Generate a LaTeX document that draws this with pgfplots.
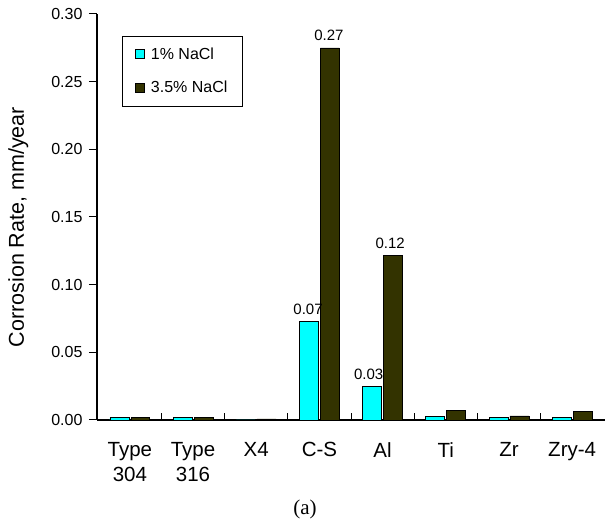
\documentclass[border=0pt]{standalone}
\usepackage{fontspec}
\setmainfont{Liberation Sans}
\newfontfamily\seriffont{Liberation Serif}
\usepackage{pgfplots}
\pgfplotsset{compat=1.18}
\definecolor{cyanbar}{RGB}{0,255,255}
\definecolor{darkbar}{RGB}{51,51,0}
\begin{document}
\begin{tikzpicture}[x=1pt,y=1pt]
\useasboundingbox (0,0) rectangle (608,525);
\begin{axis}[
  at={(97pt,105pt)}, anchor=south west,
  scale only axis, width=508pt, height=406pt,
  xmin=-0.52, xmax=7.52, ymin=0, ymax=0.30,
  axis x line=bottom, axis y line=left,
  axis line style={-, line width=2.5pt},
  ybar, bar width=0.30,
  xtick={0,...,7},
  xticklabels={{Type\\304},{Type\\316},X4,C-S,Al,Ti,Zr,Zry-4},
  xticklabel style={align=center, font=\fontsize{20.5}{25}\selectfont, yshift=-11pt},
  major x tick style={draw=none},
  minor xtick={0.5,1.5,...,6.5},
  minor x tick style={draw=black, line width=1pt, yshift=7pt},
  minor tick length=7pt,
  ytick={0,0.05,...,0.30},
  yticklabels={0.00,0.05,0.10,0.15,0.20,0.25,0.30},
  yticklabel style={font=\fontsize{16}{18}\selectfont, xshift=-3pt},
  major y tick style={draw=black, line width=1pt},
  major tick length=8pt,
  tick align=outside,
  /pgf/number format/assume math mode=true,
  ylabel={Corrosion Rate, mm/year},
  ylabel style={font=\fontsize{21.5}{24}\selectfont, at={(axis description cs:-0.155,0.475)}, anchor=center, rotate=0},
  legend style={at={(0.049,0.946)}, anchor=north west, draw=black, line width=0.7pt,
    font=\fontsize{16}{18}\selectfont, row sep=16pt, inner xsep=13pt, inner ysep=10pt,
    legend cell align=left, /tikz/every odd column/.style={column sep=4pt}},
  legend image code/.code={\draw[#1, draw=black, line width=0.7pt] (0pt,-4pt) rectangle (9pt,5pt);},
]
\addplot[fill=cyanbar, draw=black, line width=0.7pt] coordinates {
  (0,0.0017) (1,0.0017) (2,0) (3,0.0727) (4,0.0250) (5,0.0025) (6,0.0017) (7,0.0017)};
\addlegendentry{1\% NaCl}
\addplot[fill=darkbar, draw=black, line width=0.7pt] coordinates {
  (0,0.0017) (1,0.0017) (2,0.0008) (3,0.2749) (4,0.1215) (5,0.0072) (6,0.0030) (7,0.0062)};
\addlegendentry{3.5\% NaCl}
\node[anchor=south, font=\fontsize{15}{17}\selectfont] at (axis cs:2.82,0.0755) {0.07};
\node[anchor=south, font=\fontsize{15}{17}\selectfont] at (axis cs:3.15,0.2775) {0.27};
\node[anchor=south, font=\fontsize{15}{17}\selectfont] at (axis cs:3.78,0.0275) {0.03};
\node[anchor=south, font=\fontsize{15}{17}\selectfont] at (axis cs:4.12,0.1240) {0.12};
\end{axis}
\node[font=\seriffont\fontsize{21}{24}\selectfont] at (305,16) {(a)};
\end{tikzpicture}
\end{document}
